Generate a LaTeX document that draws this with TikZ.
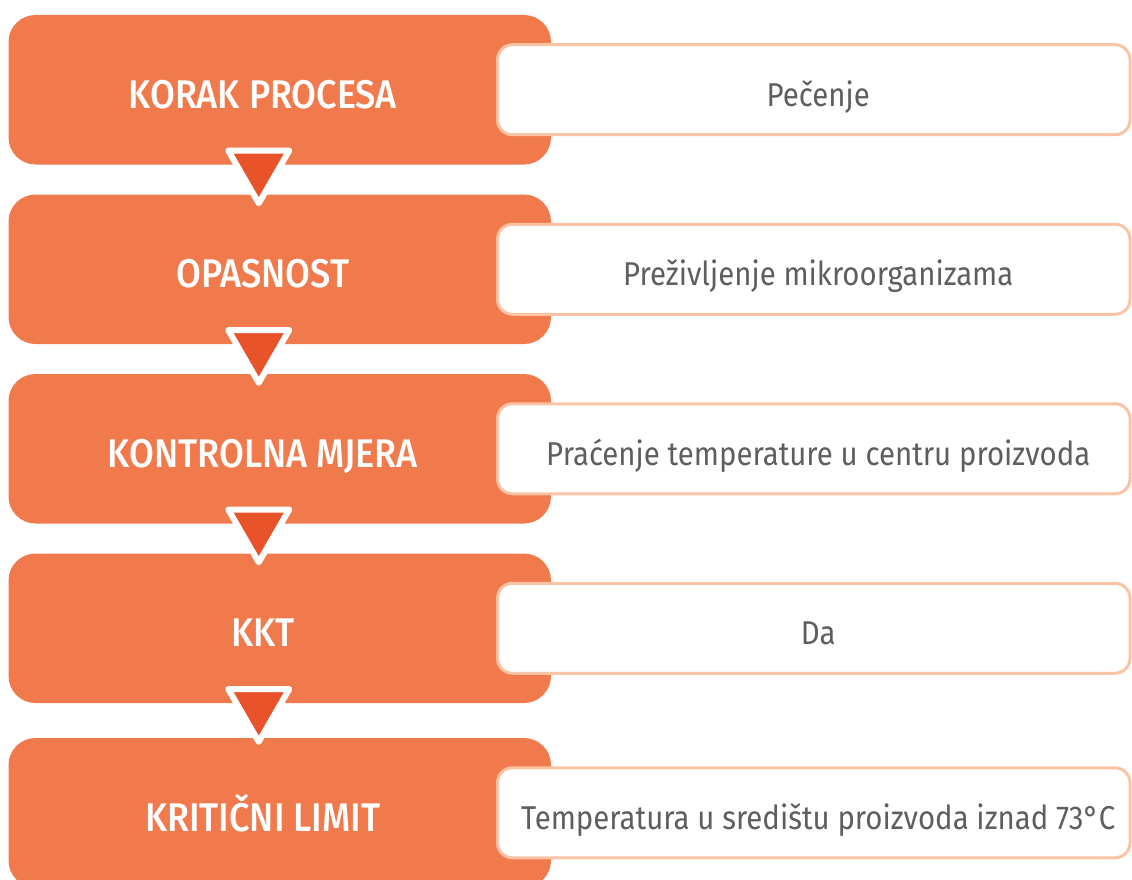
\documentclass[tikz,border=0pt]{standalone}
\usepackage{fontspec}
\setmainfont{Fira Sans}[FakeStretch=0.89]
\newfontfamily\headfont{Fira Sans}[UprightFont=* Medium, FakeStretch=0.9]
\usetikzlibrary{positioning,shapes.geometric}
\definecolor{stepfill}{HTML}{F07A4B}
\definecolor{arrowfill}{HTML}{E8532A}
\definecolor{answerline}{HTML}{FBC3A4}
\definecolor{answertext}{HTML}{5E5E5E}

\begin{document}
\begin{tikzpicture}[x=1pt, y=1pt, node distance=30pt]
        % Define block styles
        \tikzstyle{block} = [rectangle, fill=stepfill, rounded corners=27pt, minimum width=542.5pt, minimum height=149.5pt, inner sep=0pt, outer sep=0pt]
        \tikzstyle{title} = [text=white, font=\headfont\fontsize{40}{48}\selectfont, anchor=base, inner sep=0pt]
        \tikzstyle{answer} = [rectangle, draw=answerline, line width=3pt, fill=white, rounded corners=15pt, minimum width=632.5pt, minimum height=90pt, outer sep=0pt, text=answertext, font=\fontsize{33}{40}\selectfont, text height=33pt, text depth=0pt, execute at begin node={\hspace*{9pt}}]
        \tikzstyle{pointer} = [regular polygon, regular polygon sides=3, shape border rotate=180, fill=arrowfill, draw=white, line width=6pt, line join=round, minimum size=70.4pt, inner sep=0pt, outer sep=0pt]

        \useasboundingbox (0,0) rectangle (1132,-880);

        % Place step boxes
        \node [block] (step1) at (279.75,-89.75) {};
        \node [block, below=of step1] (step2) {};
        \node [block, below=of step2] (step3) {};
        \node [block, below=of step3] (step4) {};
        \node [block, below=35pt of step4] (step5) {};

        % Step titles
        \node [title] (title1) at ([xshift=-17pt, yshift=-18.5pt]step1.center) {KORAK PROCESA};
        \node [title] (title2) at ([xshift=-17pt, yshift=-18.5pt]step2.center) {OPASNOST};
        \node [title] (title3) at ([xshift=-17pt, yshift=-18.5pt]step3.center) {KONTROLNA MJERA};
        \node [title] (title4) at ([xshift=-17pt, yshift=-18.5pt]step4.center) {KKT};
        \node [title] (title5) at ([xshift=-17pt, yshift=-18.5pt]step5.center) {KRITIČNI LIMIT};

        % Pointers between steps
        \node [pointer, below=-14pt of step1.south, xshift=-21pt] (arrow1) {};
        \node [pointer, below=-14pt of step2.south, xshift=-21pt] (arrow2) {};
        \node [pointer, below=-14pt of step3.south, xshift=-21pt] (arrow3) {};
        \node [pointer, below=-14pt of step4.south, xshift=-21pt] (arrow4) {};

        % Values
        \node [answer, right=-53.5pt of step1] (value1) {Pečenje};
        \node [answer, right=-53.5pt of step2] (value2) {Preživljenje mikroorganizama};
        \node [answer, right=-53.5pt of step3] (value3) {Praćenje temperature u centru proizvoda};
        \node [answer, right=-53.5pt of step4] (value4) {Da};
        \node [answer, right=-53.5pt of step5] (value5) {Temperatura u središtu proizvoda iznad 73°C};
\end{tikzpicture}
\end{document}
